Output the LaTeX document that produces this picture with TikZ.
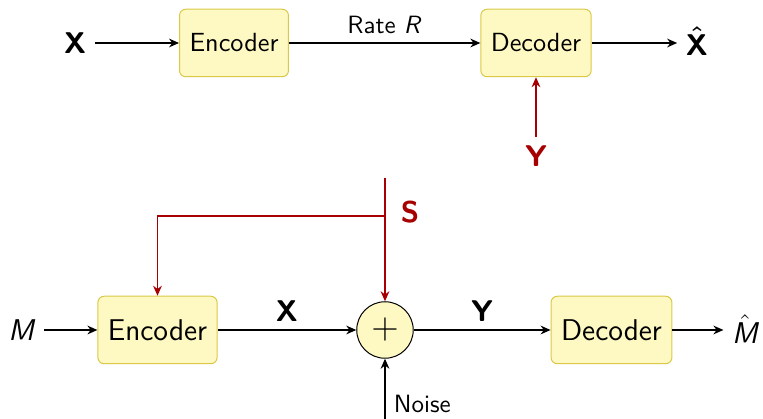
\documentclass[tikz,border=0pt]{standalone}
\usetikzlibrary{arrows.meta}
\DeclareMathAlphabet{\mathsfit}{TU}{lmss}{m}{it}
\definecolor{boite}{RGB}{254,249,195}%fond des blocs
\definecolor{bord}{RGB}{218,200,70}%bord des blocs
\colorlet{rouge}{red!65!black}%information adjacente
\tikzset{
  bloc/.style={draw=bord,fill=boite,rounded corners=2.5pt,minimum height=27pt,inner xsep=4pt,font=\sffamily\fontsize{10.5}{13}\selectfont},
  somme/.style={circle,draw,fill=boite,minimum size=22.6pt,inner sep=0pt,font=\Large},
  lien/.style={-{Stealth[length=4pt,width=3.5pt]},line width=0.5pt},
  lab/.style={font=\sffamily\large}
}
\begin{document}
\begin{tikzpicture}[x=0.4pt,y=-0.4pt]
\useasboundingbox (0,0) rectangle (763,419);
%codage de source avec information adjacente
\node[lab,font=\sffamily\bfseries\large] (X1) at (75,43) {X};
\node[bloc] (E1) at (234,43) {Encoder};
\node[bloc] (D1) at (536,43) {Decoder};
\node[lab,font=\large\boldmath] (Xh) at (697,41) {$\hat{\mathsf{X}}$};
\node[lab,font=\sffamily\bfseries\large,text=rouge] (Y1) at (536,156) {Y};
\draw[lien] (X1) -- (E1);
\draw[lien] (E1) -- node[above,font=\sffamily]{Rate \textit{R}} (D1);
\draw[lien] (D1) -- (Xh.west |- D1.east);
\draw[lien,rouge] (Y1) -- (D1);
%canal avec etat connu
\node[lab] (M) at (22,330) {\textit{M}};
\node[bloc,font=\sffamily\large] (E2) at (157.5,330) {Encoder};
\node[somme] (P) at (385,330) {$+$};
\node[bloc,font=\sffamily\large] (D2) at (611.5,330) {Decoder};
\node[lab] (Mh) at (745,329) {$\hat{\mathsfit{M}}$};
\coordinate (S0) at (385,178);
\coordinate (S1) at (385,216);
\coordinate (N0) at (385,419);
\draw[lien] (M) -- (E2);
\draw[lien] (E2) -- node[above,font=\sffamily\bfseries\large]{X} (P);
\draw[lien] (P) -- node[above,font=\sffamily\bfseries\large]{Y} (D2);
\draw[lien] (D2) -- (Mh.west |- D2.east);
\draw[lien,rouge] (S0) -- (P);
\draw[lien,rouge] (S1) -| (E2);
\node[font=\sffamily\bfseries\large,text=rouge,anchor=west] (S) at (392,212) {S};
\draw[lien] (N0) -- node[right,pos=0.25,font=\sffamily]{Noise} (P);
\end{tikzpicture}
\end{document}
